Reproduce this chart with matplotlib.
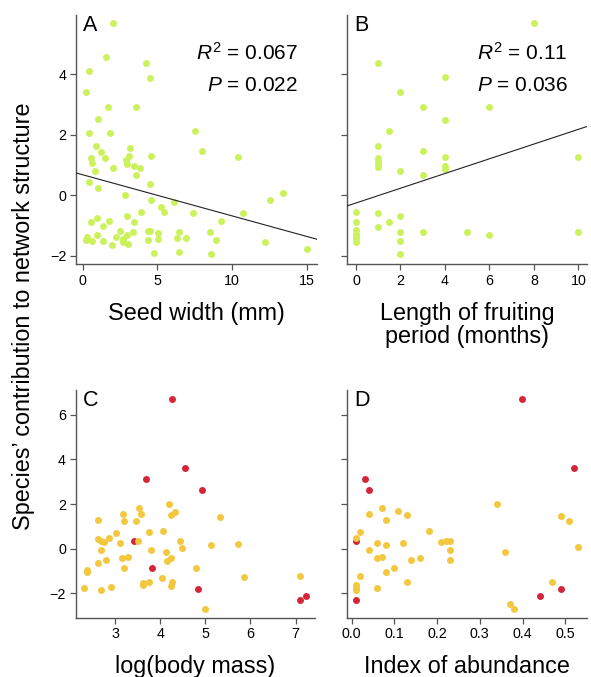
import matplotlib
matplotlib.use("Agg")
import matplotlib.pyplot as plt
import numpy as np

plt.rcParams['font.family'] = ['Liberation Sans', 'DejaVu Sans']
plt.rcParams['mathtext.fontset'] = 'custom'
plt.rcParams['mathtext.rm'] = 'Liberation Sans'
plt.rcParams['mathtext.it'] = 'Liberation Sans:italic'

# ---- Panel A: seed width (mm) vs contribution ----
seed_width = [2.05, 1.56, 0.45, 4.24, 4.51, 0.22, 1.67, 3.59, 1.0, 0.40, 1.83, 7.54, 8.01, 10.38,
              0.92, 1.23, 3.19, 1.52, 0.54, 0.63, 4.55, 3.13, 2.90, 2.97, 3.46, 3.82, 2.01, 0.80,
              3.59, 0.40, 1.0, 4.53, 2.81, 13.42, 12.57, 4.58, 6.09, 5.27, 5.42, 7.37, 10.71, 3.88,
              2.95, 0.98, 0.58, 1.79, 3.46, 9.26, 1.36, 0.98, 0.27, 0.22, 0.63, 1.36, 1.94, 2.21,
              2.50, 2.72, 2.72, 3.04, 2.95, 3.37, 4.35, 4.49, 5.04, 5.07, 4.35, 6.45, 6.32, 6.90,
              4.78, 6.45, 8.55, 8.91, 8.62, 12.23, 15.04]
contrib_A = [5.67, 4.57, 4.11, 4.35, 3.88, 3.42, 2.90, 2.91, 2.51, 2.04, 2.07, 2.13, 1.47, 1.26,
             1.63, 1.42, 1.55, 1.22, 1.23, 1.08, 1.29, 1.30, 1.15, 1.03, 0.95, 0.91, 0.89, 0.81,
             0.68, 0.44, 0.23, 0.36, 0.02, 0.09, -0.15, -0.15, -0.22, -0.40, -0.55, -0.58, -0.58, -0.55,
             -0.68, -0.75, -0.89, -0.86, -0.88, -0.85, -1.0, -1.30, -1.38, -1.49, -1.51, -1.51, -1.63, -1.37,
             -1.19, -1.43, -1.55, -1.60, -1.31, -1.20, -1.19, -1.19, -1.24, -1.43, -1.49, -1.20, -1.41, -1.42,
             -1.91, -1.89, -1.21, -1.49, -1.93, -1.55, -1.79]
fit_A = {"intercept": 0.676, "slope": -0.1357}
stats_A = ["0.067", "0.022"]

# ---- Panel B: length of fruiting period (months) ----
fruit_len = [8, 1, 4, 2, 3, 6, 4, 1.5, 1, 3, 1, 1, 1, 1, 4, 4, 4, 2, 3, 10,
             0, 0, 0, 0, 0, 0, 0, 1, 1, 1.5, 2, 2, 2, 2, 3, 5, 6, 10]
contrib_B = [5.67, 4.36, 3.89, 3.42, 2.90, 2.91, 2.49, 2.13, 1.63, 1.46, 1.23, 1.12, 1.03, 0.92,
             1.27, 0.95, 0.88, 0.81, 0.68, 1.26,
             -0.56, -0.87, -1.16, -1.27, -1.37, -1.46, -1.55, -0.58, -1.05, -0.87, -0.67, -1.20,
             -1.52, -1.95, -1.20, -1.20, -1.31, -1.20]
fit_B = {"intercept": -0.255, "slope": 0.243}
stats_B = ["0.11", "0.036"]

# ---- Panel C: log(body mass) ----
logmass_red = [4.26, 4.55, 3.69, 4.93, 3.42, 3.83, 4.84, 7.10, 7.23]
contrib_C_red = [6.70, 3.63, 3.13, 2.64, 0.34, -0.88, -1.82, -2.30, -2.13]
logmass_yel = [2.62, 3.18, 3.20, 3.54, 3.58, 3.47, 4.20, 4.23, 4.32, 5.33, 3.03, 2.87, 2.63, 2.68,
               2.75, 3.12, 3.51, 3.75, 4.06, 4.43, 4.48, 5.12, 5.72, 2.69, 3.80, 4.13, 4.16, 4.25,
               3.15, 3.28, 2.80, 2.62, 3.19, 2.37, 2.38, 4.80, 5.86, 7.10, 4.05, 3.61, 3.62, 3.75,
               4.26, 4.25, 2.31, 2.69, 2.92, 4.99]
contrib_C_yel = [1.27, 1.57, 1.24, 1.84, 1.54, 1.24, 2.00, 1.51, 1.66, 1.43, 0.70, 0.48, 0.42, 0.34,
                 0.28, 0.27, 0.34, 0.73, 0.78, 0.33, 0.04, 0.18, 0.22, -0.04, -0.07, -0.13, -0.54, -0.42,
                 -0.43, -0.37, -0.51, -0.64, -0.88, -0.96, -1.03, -0.85, -1.27, -1.24, -1.31, -1.52, -1.64, -1.49,
                 -1.51, -1.69, -1.76, -1.85, -1.72, -2.70]

# ---- Panel D: index of abundance ----
abund_red = [0.399, 0.520, 0.030, 0.040, 0.010, 0.010, 0.440, 0.489]
contrib_D_red = [6.70, 3.63, 3.13, 2.64, 0.36, -2.28, -2.12, -1.81]
abund_yel = [0.340, 0.070, 0.109, 0.130, 0.040, 0.080, 0.489, 0.509, 0.020, 0.010, 0.180, 0.059,
             0.080, 0.120, 0.209, 0.220, 0.230, 0.040, 0.230, 0.359, 0.529, 0.059, 0.070, 0.140,
             0.159, 0.230, 0.080, 0.100, 0.020, 0.130, 0.010, 0.010, 0.010, 0.059, 0.470, 0.370, 0.380]
contrib_D_yel = [2.01, 1.84, 1.67, 1.52, 1.55, 1.27, 1.45, 1.24, 0.75, 0.49, 0.79, 0.27,
                 0.18, 0.24, 0.31, 0.33, 0.33, -0.04, -0.06, -0.13, 0.06, -0.40, -0.39, -0.49,
                 -0.42, -0.52, -1.03, -0.85, -1.24, -1.48, -1.64, -1.76, -1.87, -1.75, -1.48, -2.46, -2.72]

GREEN = "#cbf25c"
YELLOW = "#f3c73e"
RED = "#d42639"
SPINE = "#555555"

W, H = 591, 677
fig = plt.figure(figsize=(W / 100, H / 100), dpi=100)

def axes_px(left, top, right, bottom):
    return fig.add_axes([left / W, 1 - bottom / H, (right - left) / W, (bottom - top) / H])

axA = axes_px(76, 15, 317, 264)
axB = axes_px(346.7, 15, 587, 264)
axC = axes_px(75.7, 390, 315, 617.7)
axD = axes_px(346.7, 390, 587, 617.7)

def style(ax):
    for s in ("top", "right"):
        ax.spines[s].set_visible(False)
    for s in ("left", "bottom"):
        ax.spines[s].set_color(SPINE)
        ax.spines[s].set_linewidth(1.0)
    ax.tick_params(colors=SPINE, labelcolor="black", length=4, width=0.9,
                   labelsize=10.3, pad=3)

ms = 25
LBL = 16.8
axA.scatter(seed_width, contrib_A, s=ms, color=GREEN, linewidths=0, zorder=2)
axA.axline((0, fit_A["intercept"]), slope=fit_A["slope"], color="#222222", lw=0.8, zorder=3)
axA.set_xlim(-0.45, 15.69)
axA.set_ylim(-2.27, 5.95)
axA.set_xticks([0, 5, 10, 15])
axA.set_yticks([-2, 0, 2, 4])
axA.set_xlabel("Seed width (mm)", fontsize=LBL, labelpad=10)

axB.scatter(fruit_len, contrib_B, s=ms, color=GREEN, linewidths=0, zorder=2)
axB.axline((0, fit_B["intercept"]), slope=fit_B["slope"], color="#222222", lw=0.8, zorder=3)
axB.set_xlim(-0.42, 10.39)
axB.set_ylim(-2.27, 5.95)
axB.set_xticks([0, 2, 4, 6, 8, 10])
axB.set_yticks([-2, 0, 2, 4])
axB.set_yticklabels([])
axB.set_xlabel("Length of fruiting\nperiod (months)", fontsize=LBL, labelpad=10, linespacing=1.0)

axC.scatter(logmass_red, contrib_C_red, s=ms, color=RED, linewidths=0, zorder=2)
axC.scatter(logmass_yel, contrib_C_yel, s=ms, color=YELLOW, linewidths=0, zorder=3)
axC.set_xlim(2.13, 7.43)
axC.set_ylim(-3.09, 7.11)
axC.set_xticks([3, 4, 5, 6, 7])
axC.set_yticks([-2, 0, 2, 4, 6])
axC.set_xlabel("log(body mass)", fontsize=LBL, labelpad=10)

axD.scatter(abund_red, contrib_D_red, s=ms, color=RED, linewidths=0, zorder=2)
axD.scatter(abund_yel, contrib_D_yel, s=ms, color=YELLOW, linewidths=0, zorder=3)
axD.set_xlim(-0.0117, 0.551)
axD.set_ylim(-3.09, 7.11)
axD.set_xticks([0.0, 0.1, 0.2, 0.3, 0.4, 0.5])
axD.set_xticklabels(["0.0", "0.1", "0.2", "0.3", "0.4", "0.5"])
axD.set_yticks([-2, 0, 2, 4, 6])
axD.set_yticklabels([])
axD.set_xlabel("Index of abundance", fontsize=LBL, labelpad=10)

for ax, letter in zip([axA, axB, axC, axD], "ABCD"):
    style(ax)
    ax.text(0.03, 1.0, letter, transform=ax.transAxes, fontsize=15.5, va="top", ha="left")

for ax, st in ((axA, stats_A), (axB, stats_B)):
    ax.text(0.92, 0.82, r"$R^2$ = " + st[0], transform=ax.transAxes, fontsize=15,
            ha="right", va="baseline")
    ax.text(0.92, 0.695, r"$P$ = " + st[1], transform=ax.transAxes, fontsize=15,
            ha="right", va="baseline")

fig.text(24 / W, 1 - 316 / H, "Species\u2019 contribution to network structure",
         rotation=90, fontsize=LBL, ha="center", va="center")

fig.savefig("out.png", dpi=100)
